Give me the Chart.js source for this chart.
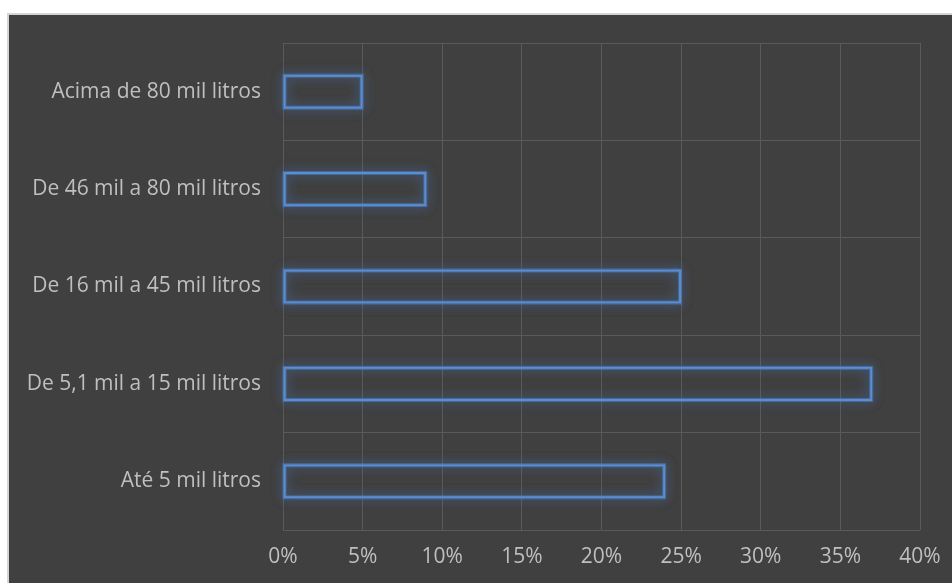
<!DOCTYPE html>
<html>
<head>
<meta charset="utf-8">
<script src="https://cdn.jsdelivr.net/npm/chart.js@4"></script>
<style>
  html, body { margin: 0; padding: 0; background: #ffffff; }
  #wrap { width: 952px; height: 583px; position: relative; }
</style>
</head>
<body>
<div id="wrap"><canvas id="c" width="952" height="583"></canvas></div>
<script>
// Reservoir capacity classes and share of properties (%)
const categories = [
  'Acima de 80 mil litros',
  'De 46 mil a 80 mil litros',
  'De 16 mil a 45 mil litros',
  'De 5,1 mil a 15 mil litros',
  'Até 5 mil litros'
];
const shares = [5, 9, 25, 37, 24];
const tickMax = 40;
const tickStep = 5;

const FONT = '"Open Sans", "Noto Sans", sans-serif';
const BLUE = '#5a8ed3';

// Dark panel with a light frame behind the whole chart
const panelPlugin = {
  id: 'panel',
  beforeDraw(chart) {
    const ctx = chart.ctx;
    ctx.save();
    ctx.fillStyle = '#ffffff';
    ctx.fillRect(0, 0, chart.width, chart.height);
    ctx.fillStyle = '#d4d4d4';
    ctx.fillRect(7, 13, chart.width - 7, chart.height - 13);
    ctx.fillStyle = '#404040';
    ctx.fillRect(9, 15, chart.width - 9, chart.height - 15);
    ctx.restore();
  }
};

// Soft blue glow around every bar outline
const glowPlugin = {
  id: 'glow',
  beforeDatasetsDraw(chart) {
    const ctx = chart.ctx;
    chart.data.datasets.forEach((ds, i) => {
      const meta = chart.getDatasetMeta(i);
      meta.data.forEach(el => {
        const p = el.getProps(['x', 'y', 'base', 'height'], true);
        const left = Math.min(p.x, p.base);
        const w = Math.abs(p.x - p.base);
        const top = p.y - p.height / 2;
        ctx.save();
        ctx.strokeStyle = 'rgba(79,129,200,0.35)';
        ctx.lineWidth = 4;
        ctx.shadowColor = 'rgba(79,129,200,0.9)';
        ctx.shadowBlur = 12;
        ctx.strokeRect(left + 1, top + 1, w - 2, p.height - 2);
        ctx.strokeRect(left + 1, top + 1, w - 2, p.height - 2);
        ctx.restore();
      });
    });
  }
};

new Chart(document.getElementById('c'), {
  type: 'bar',
  data: {
    labels: categories,
    datasets: [{
      data: shares,
      backgroundColor: 'rgba(0,0,0,0)',
      borderColor: BLUE,
      borderWidth: 2,
      borderSkipped: false,
      barPercentage: 0.35,
      categoryPercentage: 1.0
    }]
  },
  options: {
    indexAxis: 'y',
    responsive: false,
    animation: false,
    devicePixelRatio: 1,
    layout: { padding: { top: 43, right: 32, bottom: 0, left: 0 } },
    plugins: {
      legend: { display: false },
      tooltip: { enabled: false }
    },
    scales: {
      x: {
        min: 0,
        max: tickMax,
        ticks: {
          stepSize: tickStep,
          color: '#bfbfbf',
          font: { family: FONT, size: 21 },
          padding: 14,
          callback: v => v + '%'
        },
        grid: { color: '#5a5a5a', lineWidth: 1, drawTicks: false },
        border: { display: false },
        afterFit(scale) {
          scale.height = 53;
          scale.paddingRight = 0;
          scale.paddingLeft = 0;
        }
      },
      y: {
        ticks: {
          color: '#bfbfbf',
          font: { family: FONT, size: 21 },
          padding: 22
        },
        grid: { color: '#5a5a5a', lineWidth: 1, drawTicks: false, offset: true },
        border: { display: false },
        afterFit(scale) { scale.width = 283; }
      }
    }
  },
  plugins: [panelPlugin, glowPlugin]
});
</script>
</body>
</html>
